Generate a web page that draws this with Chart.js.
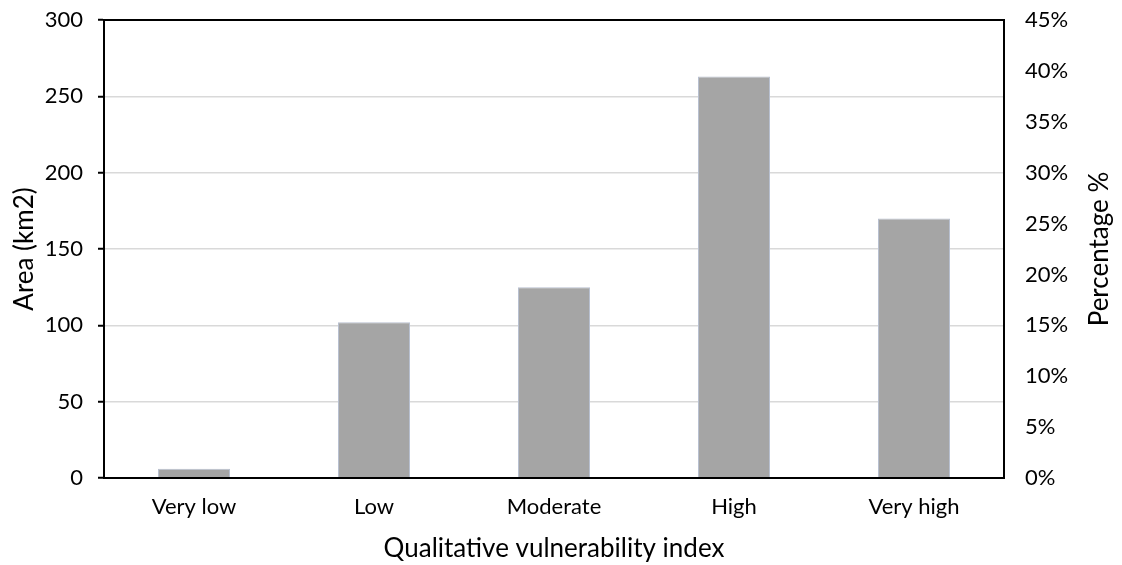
<!DOCTYPE html>
<html>
<head>
<meta charset="utf-8">
<script src="https://cdn.jsdelivr.net/npm/chart.js@4/dist/chart.umd.min.js"></script>
<style>
  html, body { margin: 0; padding: 0; background: #fff; }
  #wrap { width: 1122px; height: 565px; }
</style>
</head>
<body>
<div id="wrap"><canvas id="chart"></canvas></div>
<script>
  const categories = ['Very low', 'Low', 'Moderate', 'High', 'Very high'];
  const areaValues = [6, 102, 125, 263, 170];
  const leftTicks = [0, 50, 100, 150, 200, 250, 300];
  const rightTicks = [0, 0.05, 0.10, 0.15, 0.20, 0.25, 0.30, 0.35, 0.40, 0.45];

  const FONT = 'Lato, "Open Sans", sans-serif';

  // frame + axis titles
  const framePlugin = {
    id: 'frame',
    afterDatasetsDraw(chart) {
      const { ctx, chartArea: a } = chart;
      ctx.save();
      ctx.strokeStyle = '#000';
      ctx.lineWidth = 2;
      ctx.strokeRect(a.left, a.top, a.right - a.left, a.bottom - a.top);
      ctx.fillStyle = '#000';
      ctx.font = '26px ' + FONT;
      ctx.textAlign = 'center';
      ctx.textBaseline = 'middle';
      ctx.fillText('Qualitative vulnerability index', (a.left + a.right) / 2, 549);
      ctx.translate(25, (a.top + a.bottom) / 2);
      ctx.rotate(-Math.PI / 2);
      ctx.fillText('Area (km2)', 0, 0);
      ctx.restore();
      ctx.save();
      ctx.fillStyle = '#000';
      ctx.font = '26px ' + FONT;
      ctx.textAlign = 'center';
      ctx.textBaseline = 'middle';
      ctx.translate(1100, (a.top + a.bottom) / 2);
      ctx.rotate(-Math.PI / 2);
      ctx.fillText('Percentage %', 0, 0);
      ctx.restore();
    }
  };

  Chart.defaults.font.family = FONT;
  Chart.defaults.color = '#000';

  new Chart(document.getElementById('chart'), {
    type: 'bar',
    data: {
      labels: categories,
      datasets: [{
        data: areaValues,
        backgroundColor: '#a5a5a5',
        borderColor: '#b8c0d0',
        borderWidth: 1,
        barPercentage: 0.4,
        categoryPercentage: 1,
        yAxisID: 'y'
      }]
    },
    options: {
      responsive: true,
      maintainAspectRatio: false,
      animation: false,
      layout: { padding: { top: 20, left: 0, right: 0, bottom: 0 } },
      plugins: { legend: { display: false }, tooltip: { enabled: false } },
      scales: {
        x: {
          grid: { display: false, drawTicks: false },
          border: { color: '#000', width: 2 },
          ticks: { font: { size: 22 }, padding: 16 },
          afterFit(s) { s.height = 87; s.paddingLeft = 0; s.paddingRight = 0; }
        },
        y: {
          position: 'left',
          min: 0, max: 300,
          afterBuildTicks(s) { s.ticks = leftTicks.map(v => ({ value: v })); },
          grid: { color: '#d9d9d9', lineWidth: 1.5, tickColor: '#000', tickLength: 6, tickWidth: 2 },
          border: { color: '#000', width: 2 },
          ticks: { font: { size: 22 }, padding: 15 },
          afterFit(s) { s.width = 104; s.paddingTop = 0; s.paddingBottom = 0; }
        },
        y2: {
          position: 'right',
          min: 0, max: 0.45,
          afterBuildTicks(s) { s.ticks = rightTicks.map(v => ({ value: v })); },
          grid: { drawOnChartArea: false, drawTicks: false },
          border: { color: '#000', width: 2 },
          ticks: {
            font: { size: 22 }, padding: 21,
            callback: v => Math.round(v * 100) + '%'
          },
          afterFit(s) { s.width = 118; s.paddingTop = 0; s.paddingBottom = 0; }
        }
      }
    },
    plugins: [framePlugin]
  });
</script>
</body>
</html>
